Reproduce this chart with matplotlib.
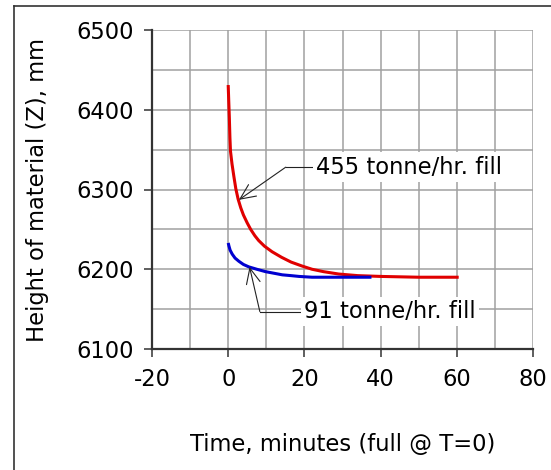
import matplotlib
matplotlib.use("Agg")
import matplotlib.pyplot as plt
from matplotlib.lines import Line2D

# Data
red_t = [0, 0.15, 0.3, 0.45, 0.6, 1.0, 1.5, 2.0, 2.6, 3.3, 4.0, 5.0, 5.9, 7.0, 8.0, 9.5, 11.5, 14.0, 16.5, 19.4, 22.0, 25.0, 29.0, 34.0, 40.0, 50.0, 60.5]
red_z = [6431, 6410, 6390, 6365, 6348, 6332, 6316, 6301, 6288, 6277, 6268, 6258, 6250, 6242, 6236, 6229, 6222, 6215, 6209, 6204, 6200, 6197, 6194, 6192, 6191, 6190, 6190]
blue_t = [0, 0.2, 0.5, 1.05, 1.8, 2.8, 4.0, 5.4, 7.5, 9.8, 12.0, 14.2, 16.5, 18.6, 22.0, 28.0, 37.6]
blue_z = [6233, 6229, 6224, 6219, 6214, 6210, 6206, 6203, 6200, 6197, 6195, 6193, 6192, 6191, 6190, 6190, 6190]

red_label = "455 tonne/hr. fill"
blue_label = "91 tonne/hr. fill"
xlabel = "Time, minutes (full @ T=0)"
ylabel = "Height of material (Z), mm"
xticks = [-20, 0, 20, 40, 60, 80]
yticks = [6100, 6200, 6300, 6400, 6500]

# annotation anchors (data coords): text, elbow, tip
red_text = (22.5, 6328); red_elbow = (15.1, 6328); red_tip = (2.8, 6287)
blue_text = (19.3, 6147); blue_elbow = (8.3, 6147); blue_tip = (5.6, 6203)

plt.rcParams['font.family'] = ['DejaVu Sans']
plt.rcParams['axes.unicode_minus'] = False
FS = 16.3
fig = plt.figure(figsize=(5.51, 4.70), dpi=100)
ax = fig.add_axes([152/551, 1-349/470, (533-152)/551, (349-30)/470])

ax.set_xlim(-20, 80)
ax.set_ylim(6100, 6500)
ax.set_xticks(xticks)
ax.set_yticks(yticks)
ax.set_xticks(range(-20, 81, 10), minor=True)
ax.set_yticks(range(6100, 6501, 50), minor=True)
ax.grid(True, which='both', color='#a0a0a0', linewidth=1.1)
ax.set_axisbelow(True)
ax.tick_params(which='major', direction='out', length=6, width=1.1, labelsize=FS, pad=7, color='#333333')
ax.tick_params(axis='x', which='major', pad=8)
ax.tick_params(which='minor', length=0)
for s in ['top', 'right']:
    ax.spines[s].set_visible(False)
for s in ['left', 'bottom']:
    ax.spines[s].set_linewidth(1.6)
    ax.spines[s].set_color('#333333')

ax.plot(red_t, red_z, color='#e00000', linewidth=2.2, solid_capstyle='butt')
ax.plot(blue_t, blue_z, color='#0000d0', linewidth=2.2, solid_capstyle='butt')

ax.set_xlabel(xlabel, fontsize=FS, labelpad=30)
ax.set_ylabel(ylabel, fontsize=FS, labelpad=20)

bbox = dict(boxstyle='square,pad=0.15', fc='white', ec='none')

ax.plot([red_text[0], red_elbow[0]], [red_text[1], red_elbow[1]], color='#222222', linewidth=0.8)
ax.annotate('', xy=red_tip, xytext=red_elbow,
            arrowprops=dict(arrowstyle='->,head_length=1.1,head_width=0.5', color='#222222', lw=0.8,
                            shrinkA=0, shrinkB=0))
ax.text(red_text[0] + 0.6, red_text[1], red_label, fontsize=FS, va='center', ha='left', bbox=bbox)

ax.plot([blue_text[0], blue_elbow[0]], [blue_text[1], blue_elbow[1]], color='#222222', linewidth=0.8)
ax.annotate('', xy=blue_tip, xytext=blue_elbow,
            arrowprops=dict(arrowstyle='->,head_length=1.1,head_width=0.5', color='#222222', lw=0.8,
                            shrinkA=0, shrinkB=0))
ax.text(blue_text[0] + 0.6, blue_text[1], blue_label, fontsize=FS, va='center', ha='left', bbox=bbox)

# outer frame (left and top edges)
fig.add_artist(Line2D([14/551, 14/551], [0, 1-6/470], transform=fig.transFigure, color='#333333', lw=1.2))
fig.add_artist(Line2D([14/551, 1], [1-6/470, 1-6/470], transform=fig.transFigure, color='#333333', lw=1.2))

fig.savefig('out.png', dpi=100)
